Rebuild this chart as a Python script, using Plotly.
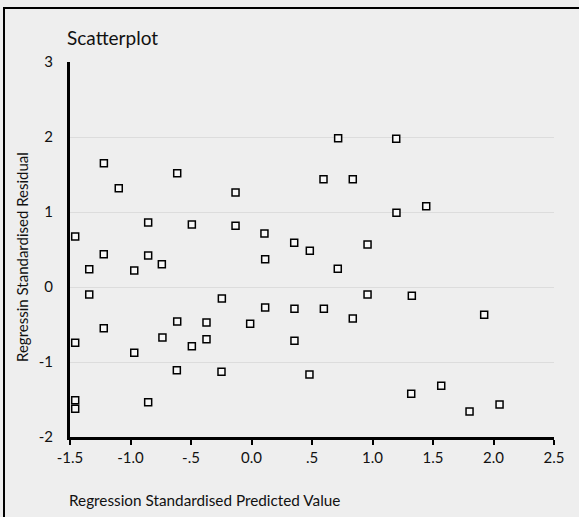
import plotly.graph_objects as go

predicted = [
    -1.22, -0.614, -1.097, -0.854, -0.493, -1.457,
    0.716, 1.196, 0.595, 0.837, -0.132, -0.132, 0.107, 0.353, 0.482, 0.959, 1.198, 1.444,
    -1.221, -1.341, -0.969, -0.854, -0.741, -1.341, -0.245, -0.614, -0.372, -1.221,
    -0.736, -0.372, -1.457, -0.493, -0.969, -0.617, -0.248, -1.457, -1.457, -0.854,
    0.113, 0.713, 0.959, 0.113, 0.355, 0.598, -0.011, 0.837, 0.355, 0.479,
    1.325, 1.923, 1.32, 1.568, 1.802, 2.05,
]
residual = [
    1.65, 1.517, 1.317, 0.86, 0.833, 0.673,
    1.984, 1.976, 1.437, 1.437, 1.26, 0.816, 0.713, 0.589, 0.485, 0.567, 0.989, 1.077,
    0.437, 0.237, 0.22, 0.42, 0.304, -0.1, -0.153, -0.46, -0.473, -0.549,
    -0.673, -0.696, -0.744, -0.789, -0.878, -1.109, -1.131, -1.509, -1.624, -1.536,
    0.371, 0.243, -0.1, -0.273, -0.291, -0.291, -0.491, -0.42, -0.717, -1.167,
    -0.118, -0.371, -1.424, -1.318, -1.66, -1.567,
]
x_ticks = [-1.5, -1.0, -0.5, 0.0, 0.5, 1.0, 1.5, 2.0, 2.5]
x_tick_labels = ["-1.5", "-1.0", "-.5", "0.0", ".5", "1.0", "1.5", "2.0", "2.5"]
y_ticks = [-2, -1, 0, 1, 2, 3]
y_tick_labels = ["-2", "-1", "0", "1", "2", "3"]

W, H = 579, 517
L, R, T, B = 70, 25, 62, 80
FONT = "Lato"
BG = "#eeeeee"
TXT = "#111111"

fig = go.Figure(go.Scatter(
    x=predicted, y=residual, mode="markers",
    marker=dict(symbol="square", size=7, color="#f8f8f8",
                line=dict(color="black", width=1.5)),
    hoverinfo="x+y",
))

fig.update_layout(
    width=W, height=H,
    margin=dict(l=L, r=R, t=T, b=B),
    paper_bgcolor=BG, plot_bgcolor=BG,
    showlegend=False,
    font=dict(family=FONT, color=TXT, size=15),
    title=dict(text="Scatterplot", x=67 / W, xanchor="left",
               y=1 - 38 / H, yanchor="middle", yref="container",
               font=dict(family=FONT, size=19, color=TXT)),
)

fig.update_xaxes(
    range=[-1.5, 2.5], tickvals=x_ticks, ticktext=x_tick_labels,
    showgrid=False, zeroline=False,
    showline=True, linecolor="black", linewidth=3,
    ticks="outside", ticklen=5, tickwidth=1.5, tickcolor="black",
    tickfont=dict(family=FONT, size=15, color=TXT),
)
fig.update_yaxes(
    range=[-2, 3], tickvals=y_ticks, ticktext=y_tick_labels,
    showgrid=True, gridcolor="#dcdcdc", gridwidth=1, zeroline=False,
    showline=True, linecolor="black", linewidth=3,
    ticks="", ticklabelstandoff=11,
    tickfont=dict(family=FONT, size=15, color=TXT),
)

pw, ph = W - L - R, H - T - B
def px2paper_x(px):
    return (px - L) / pw
def px2paper_y(py):
    return (H - B - py) / ph

fig.add_annotation(
    text="Regression Standardised Predicted Value", showarrow=False,
    xref="paper", yref="paper", x=px2paper_x(67), y=px2paper_y(500),
    xanchor="left", yanchor="middle",
    font=dict(family=FONT, size=15.3, color=TXT),
)
fig.add_annotation(
    text="Regressin Standardised Residual", showarrow=False, textangle=-90,
    xref="paper", yref="paper", x=px2paper_x(22), y=px2paper_y(257),
    xanchor="center", yanchor="middle",
    font=dict(family=FONT, size=15, color=TXT),
)
fig.add_shape(
    type="rect", xref="paper", yref="paper",
    x0=px2paper_x(4), x1=px2paper_x(590), y0=px2paper_y(530), y1=px2paper_y(8),
    line=dict(color="black", width=2), fillcolor="rgba(0,0,0,0)", layer="above",
)

fig.write_html(
    "out.html",
    config={"displayModeBar": False},
    post_script="document.body.style.margin='0';document.body.style.background='#eeeeee';document.body.style.overflow='hidden';",
)
